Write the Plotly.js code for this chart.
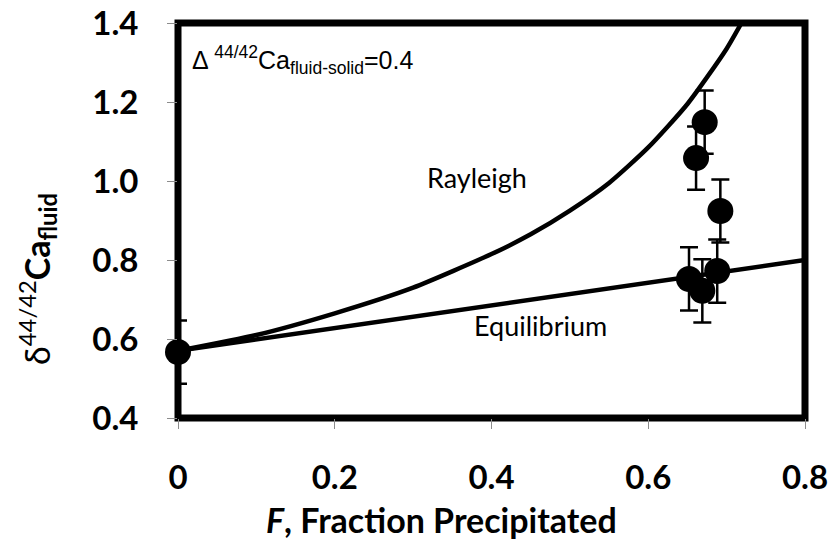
<!DOCTYPE html>
<html>
<head>
<meta charset="utf-8">
<script src="https://cdn.plot.ly/plotly-3.0.1.min.js"></script>
<style>html,body{margin:0;padding:0;background:#fff;}#chart{width:833px;height:558px;}</style>
</head>
<body>
<div id="chart"></div>
<script>
// Rayleigh model curve
var rayleighF = [0, 0.1, 0.2, 0.3, 0.4, 0.45, 0.5, 0.55, 0.6, 0.65, 0.7, 0.73];
var rayleighD = [0.57, 0.61, 0.665, 0.73, 0.815, 0.865, 0.925, 0.995, 1.085, 1.195, 1.335, 1.44];
// Equilibrium model line
var equilF = [0, 0.4, 0.8];
var equilD = [0.57, 0.685, 0.80];
// Measured samples
var sampleF = [0, 0.652, 0.661, 0.669, 0.672, 0.688, 0.692];
var sampleD = [0.567, 0.752, 1.058, 0.722, 1.149, 0.772, 0.924];
var sampleErr = [0.08, 0.08, 0.08, 0.08, 0.08, 0.08, 0.08];
var xTicks = [0, 0.2, 0.4, 0.6, 0.8];
var xTickText = ['0', '0.2', '0.4', '0.6', '0.8'];
var yTicks = [0.4, 0.6, 0.8, 1.0, 1.2, 1.4];
var yTickText = ['0.4', '0.6', '0.8', '1.0', '1.2', '1.4'];

var traces = [
  {x: rayleighF, y: rayleighD, mode: 'lines', line: {color: '#000', width: 4.5, shape: 'spline', smoothing: 0.6}, hoverinfo: 'skip'},
  {x: equilF, y: equilD, mode: 'lines', line: {color: '#000', width: 4.5}, hoverinfo: 'skip'},
  {x: sampleF, y: sampleD, mode: 'markers', cliponaxis: false,
   marker: {color: '#000', size: 26},
   error_y: {type: 'data', array: sampleErr, visible: true, color: '#000', thickness: 2.5, width: 9}}
];

var tickFont = {family: 'Lato, sans-serif', size: 33, weight: 'bold', color: '#000'};
var layout = {
  width: 833, height: 558,
  margin: {l: 178, r: 28, t: 23, b: 140, pad: 0},
  paper_bgcolor: '#fff', plot_bgcolor: '#fff',
  showlegend: false,
  xaxis: {range: [0, 0.8], tickvals: xTicks, ticktext: xTickText, ticks: 'outside', ticklen: 10,
          tickcolor: '#8c8c8c', tickwidth: 1, showline: false, showgrid: false, zeroline: false,
          tickfont: tickFont, ticklabelstandoff: 20},
  yaxis: {range: [0.4, 1.4], tickvals: yTicks, ticktext: yTickText, ticks: 'outside', ticklen: 10,
          tickcolor: '#8c8c8c', tickwidth: 1, showline: false, showgrid: false, zeroline: false,
          tickfont: tickFont, ticklabelstandoff: 22},
  shapes: [{type: 'rect', xref: 'paper', yref: 'paper', x0: 0, x1: 1, y0: 0, y1: 1,
            line: {color: '#000', width: 7}, layer: 'below'}],
  annotations: [
    {xref: 'paper', yref: 'paper', x: 0.421, y: -0.258, xanchor: 'center', yanchor: 'middle', showarrow: false,
     text: '<b><i>F</i>, Fraction Precipitated</b>', font: {family: 'Lato, sans-serif', size: 34, color: '#000'}},
    {xref: 'paper', yref: 'paper', x: -0.2233, y: 0.352, xanchor: 'center', yanchor: 'middle', showarrow: false,
     textangle: -90,
     text: 'δ<sup>44/42</sup><b>Ca<sub>fluid</sub></b>', font: {family: 'Lato, sans-serif', size: 34, color: '#000'}},
    {xref: 'paper', yref: 'paper', x: 0.019, y: 0.906, xanchor: 'left', yanchor: 'middle', showarrow: false,
     text: 'Δ <sup>44/42</sup>Ca<sub>fluid-solid</sub>=0.4', font: {family: 'Liberation Sans, Arial, sans-serif', size: 25, color: '#000'}},
    {xref: 'x', yref: 'y', x: 0.381, y: 1.008, xanchor: 'center', yanchor: 'middle', showarrow: false,
     text: 'Rayleigh', font: {family: 'Lato, sans-serif', size: 27, color: '#000'}},
    {xref: 'x', yref: 'y', x: 0.462, y: 0.635, xanchor: 'center', yanchor: 'middle', showarrow: false,
     text: 'Equilibrium', font: {family: 'Lato, sans-serif', size: 27, color: '#000'}}
  ]
};

Plotly.newPlot('chart', traces, layout, {displayModeBar: false, staticPlot: true});
</script>
</body>
</html>
